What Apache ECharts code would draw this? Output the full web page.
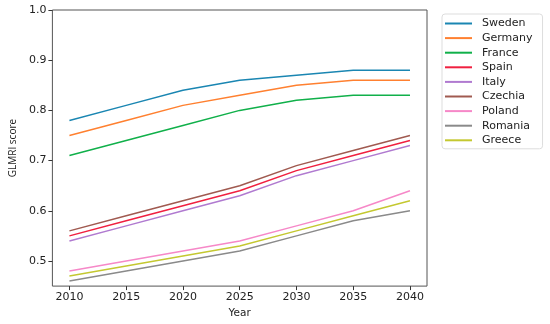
<!DOCTYPE html>
<html>
<head>
<meta charset="utf-8">
<script src="https://cdn.jsdelivr.net/npm/echarts@6/dist/echarts.min.js"></script>
<style>html,body{margin:0;padding:0;background:#fff}#c{width:550px;height:324px}</style>
</head>
<body>
<div id="c"></div>
<script>
const years = [2010, 2015, 2020, 2025, 2030, 2035, 2040];
const countries = ['Sweden','Germany','France','Spain','Italy','Czechia','Poland','Romania','Greece'];
const sweden  = [0.78, 0.81, 0.84, 0.86, 0.87, 0.88, 0.88];
const germany = [0.75, 0.78, 0.81, 0.83, 0.85, 0.86, 0.86];
const france  = [0.71, 0.74, 0.77, 0.80, 0.82, 0.83, 0.83];
const spain   = [0.55, 0.58, 0.61, 0.64, 0.68, 0.71, 0.74];
const italy   = [0.54, 0.57, 0.60, 0.63, 0.67, 0.70, 0.73];
const czechia = [0.56, 0.59, 0.62, 0.65, 0.69, 0.72, 0.75];
const poland  = [0.48, 0.50, 0.52, 0.54, 0.57, 0.60, 0.64];
const romania = [0.46, 0.48, 0.50, 0.52, 0.55, 0.58, 0.60];
const greece  = [0.47, 0.49, 0.51, 0.53, 0.56, 0.59, 0.62];
const xTicks = [2010, 2015, 2020, 2025, 2030, 2035, 2040];
const yTicks = [0.5, 0.6, 0.7, 0.8, 0.9, 1.0];

const values = [sweden, germany, france, spain, italy, czechia, poland, romania, greece];
const colors = ['#1a86b2','#ff8030','#10b04a','#f02040','#b07ad0','#a05a50','#f688c8','#8a8a8a','#c4c830'];
const font = 'DejaVu Sans';

const chart = echarts.init(document.getElementById('c'));
chart.setOption({
  animation: false,
  color: colors,
  grid: {left: 52, right: 123, top: 10, bottom: 36, show: true, borderColor: '#555', borderWidth: 1},
  legend: {
    orient: 'vertical', left: 442, top: 14,
    data: countries,
    icon: 'rect', itemWidth: 27, itemHeight: 2, itemGap: 3.6,
    padding: [4, 10, 3, 3],
    borderColor: '#ddd', borderWidth: 1, borderRadius: 3,
    textStyle: {fontFamily: font, fontSize: 11, color: '#222', padding: [0, 0, 0, 5]}
  },
  xAxis: {
    type: 'value', min: 2008.5, max: 2041.5,
    name: 'Year', nameLocation: 'middle', nameGap: 21,
    nameTextStyle: {fontFamily: font, fontSize: 10.5, color: '#222'},
    axisLine: {show: false},
    axisTick: {show: true, length: 4, customValues: xTicks, lineStyle: {color: '#333'}},
    axisLabel: {customValues: xTicks, formatter: v => String(Math.round(v)), fontFamily: font, fontSize: 11, color: '#222', margin: 6},
    splitLine: {show: false}
  },
  yAxis: {
    type: 'value', min: 0.45, max: 1.0,
    name: 'GLMRI score', nameLocation: 'middle', nameGap: 34,
    nameTextStyle: {fontFamily: 'Open Sans', fontSize: 10, color: '#222'},
    axisLine: {show: false},
    axisTick: {show: true, length: 4, customValues: yTicks, lineStyle: {color: '#333'}},
    axisLabel: {customValues: yTicks, formatter: v => v.toFixed(1), fontFamily: font, fontSize: 11, color: '#222', margin: 6},
    splitLine: {show: false}
  },
  series: countries.map((name, i) => ({
    name, type: 'line', showSymbol: false, symbol: 'none',
    lineStyle: {width: 1.5},
    data: years.map((y, j) => [y, values[i][j]])
  }))
});
</script>
</body>
</html>
